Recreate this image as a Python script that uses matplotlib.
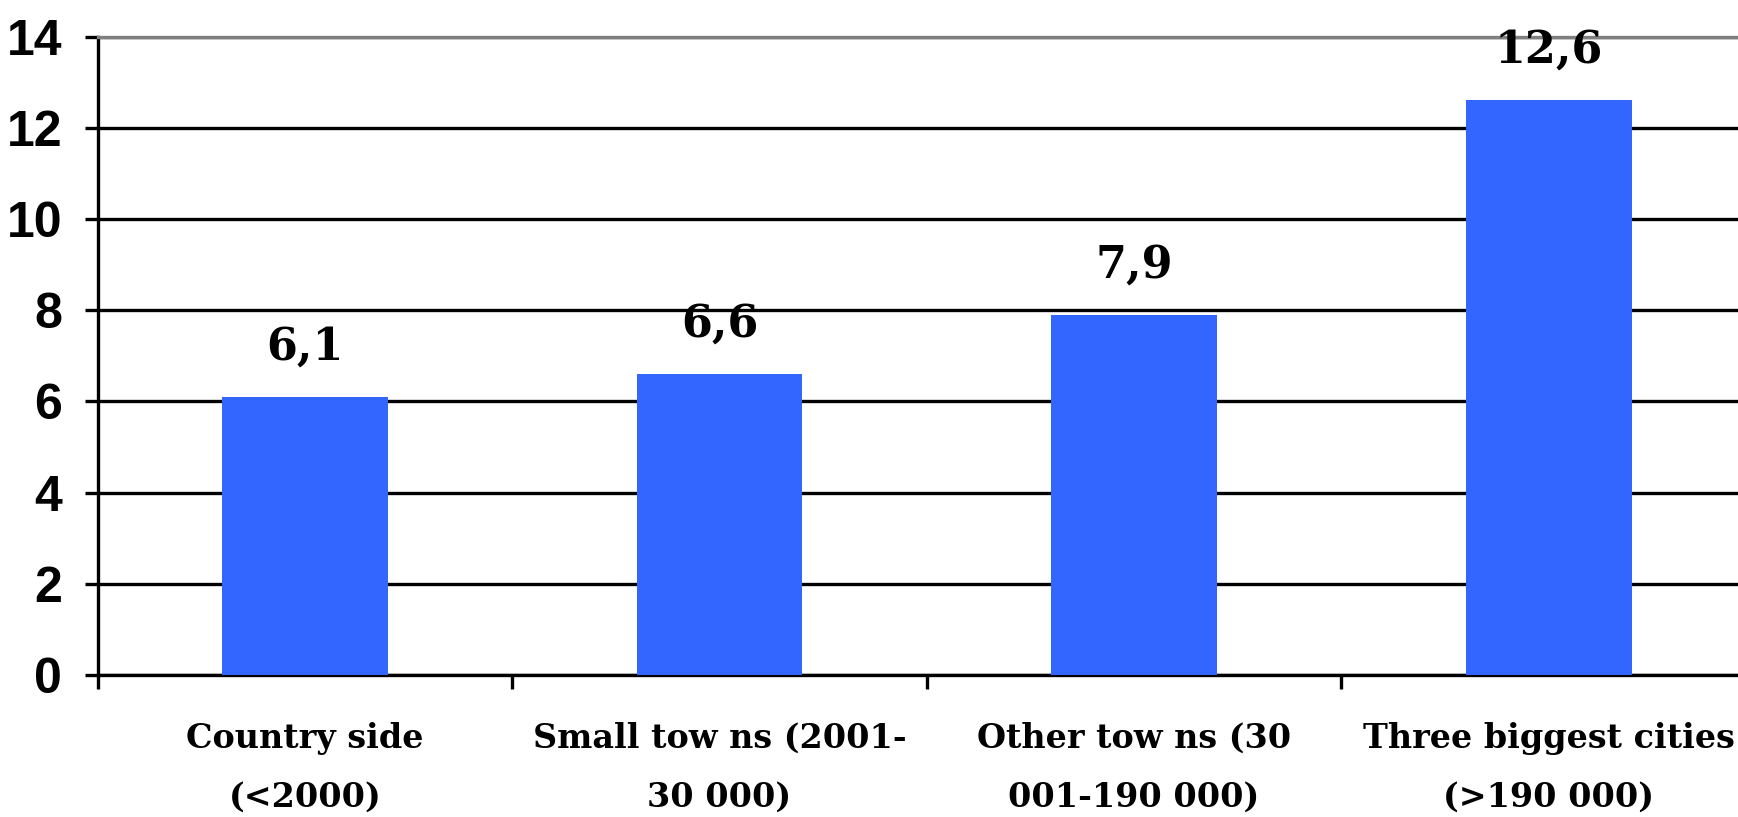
import matplotlib
matplotlib.use("Agg")
import matplotlib.pyplot as plt
import numpy as np

categories = [
    "Country side\n(<2000)",
    "Small tow ns (2001-\n30 000)",
    "Other tow ns (30\n001-190 000)",
    "Three biggest cities\n(>190 000)",
]
values = [6.1, 6.6, 7.9, 12.6]
value_labels = ["6,1", "6,6", "7,9", "12,6"]
y_ticks = [0, 2, 4, 6, 8, 10, 12, 14]

W, H, DPI = 1738, 817, 100
fig = plt.figure(figsize=(W / DPI, H / DPI), dpi=DPI)
fig.patch.set_facecolor("white")

# plot area runs slightly past the right edge of the canvas
left, right, bottom, top = 97.5, 1756, 675, 36.6
ax = fig.add_axes([left / W, (H - bottom) / H, (right - left) / W, (bottom - top) / H])

x = np.arange(len(categories))
ax.bar(x, values, width=0.4, color="#3366FF", zorder=3)

ax.set_xlim(-0.5, len(categories) - 0.5)
ax.set_ylim(0, 14)

# horizontal gridlines
ax.set_yticks(y_ticks)
ax.yaxis.grid(True, color="black", linewidth=2.4, zorder=1)
ax.set_axisbelow(True)

sans = ["Liberation Sans Narrow", "Liberation Sans", "DejaVu Sans"]
serif = ["DejaVu Serif"]

ax.set_yticklabels([str(t) for t in y_ticks], fontfamily=sans,
                   fontweight="bold", fontsize=36)
ax.tick_params(axis="y", direction="out", length=9.4, width=2.4, pad=16,
               colors="black")

# category boundaries carry the tick marks, centres carry the labels
ax.set_xticks(np.arange(-0.5, len(categories)), minor=False)
ax.set_xticklabels([""] * (len(categories) + 1))
ax.tick_params(axis="x", which="major", direction="out", length=10,
               width=2.4)
ax.set_xticks(x, minor=True)
ax.set_xticklabels(categories, minor=True, fontfamily=serif,
                   fontweight="bold", fontsize=24, linespacing=2.0)
ax.tick_params(axis="x", which="minor", length=0, pad=34)

for s in ["left", "bottom"]:
    ax.spines[s].set_linewidth(2.4)
    ax.spines[s].set_color("black")
ax.spines["top"].set_color("#808080")
ax.spines["top"].set_linewidth(2.4)
ax.spines["right"].set_visible(False)

for xi, v, lab in zip(x, values, value_labels):
    ax.annotate(lab, (xi, v), xytext=(0, 27), textcoords="offset points",
                ha="center", va="baseline", fontfamily=serif,
                fontweight="bold", fontsize=32, zorder=4)

fig.savefig("out.png", dpi=DPI, facecolor="white")
